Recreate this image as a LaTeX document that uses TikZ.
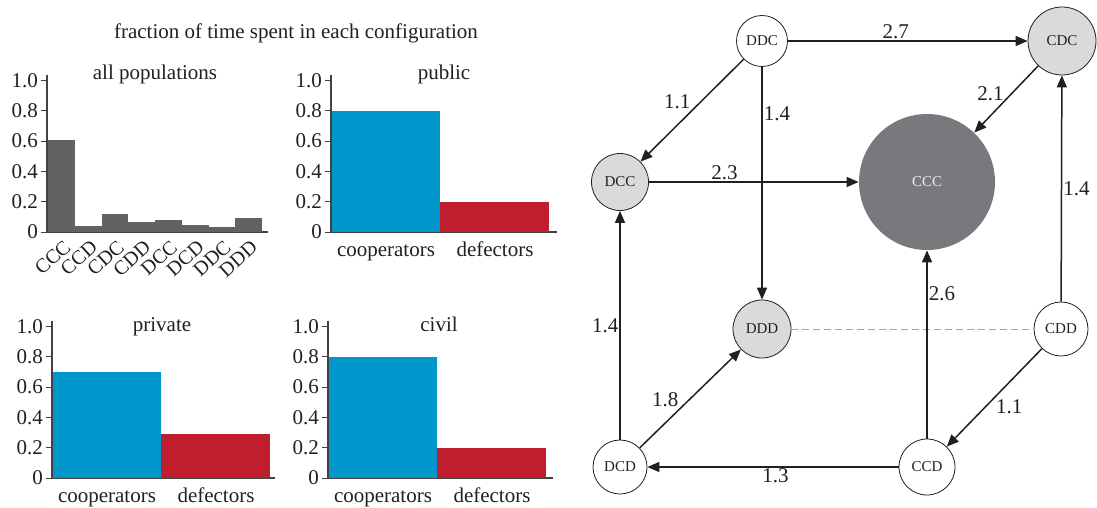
\documentclass[tikz,border=0pt]{standalone}
\usepackage{fontspec}
\setmainfont{Liberation Serif}
\usetikzlibrary{arrows.meta}
\definecolor{coopblue}{RGB}{0,152,204}
\definecolor{defred}{RGB}{190,30,45}
\definecolor{bargray}{RGB}{98,98,100}
\definecolor{lightnode}{RGB}{218,218,220}
\definecolor{darknode}{RGB}{120,121,125}
\definecolor{ink}{RGB}{35,31,32}
\begin{document}
\begin{tikzpicture}[x=1pt,y=-1pt,
    txt/.style={font=\fontsize{21}{24}\selectfont,text=ink,inner sep=1pt},
    state/.style={circle,draw=ink,line width=0.8pt,inner sep=0pt,font=\fontsize{15}{17}\selectfont,text=ink},
    trans/.style={line width=1.5pt,draw=ink,-{Triangle[length=12pt,width=10pt]}},
    axis/.style={line width=1.5pt,draw=ink!85}]
    \useasboundingbox (0,0) rectangle (1097,508);
    \node[txt] (title) at (296,33) {fraction of time spent in each configuration};
    \foreach \ax/\zy/\xe [count=\k] in {47/232/268,331/232/557,52/478/275,328/478/553} {
        \draw[axis] (\ax,\zy-157) -- (\ax,\zy) -- (\xe,\zy);
        \foreach \t/\tl in {0/0,0.2/0.2,0.4/0.4,0.6/0.6,0.8/0.8,1/1.0} {
            \draw[axis,line width=1pt] (\ax-6,\zy-151.6*\t) -- (\ax,\zy-151.6*\t);
            \node[txt,anchor=east] (tick\k\tl) at (\ax-8,\zy-151.6*\t) {\tl};
        }
    }
    \foreach \lbl/\v [count=\i from 0] in {CCC/0.604,CCD/0.042,CDC/0.121,CDD/0.066,DCC/0.079,DCD/0.046,DDC/0.03,DDD/0.092} {
        \fill[bargray] ({48.3+26.7*\i},232) rectangle ++(26.7,{-151.6*\v});
        \node[txt,font=\fontsize{20}{22}\selectfont,rotate=42,anchor=north east,inner sep=0pt] (bar\lbl) at ({63+26.7*\i},239) {\lbl};
    }
    \foreach \ax/\zy/\cv/\dv [count=\k] in {331/232/0.8/0.2,52/478/0.7/0.29,328/478/0.8/0.2} {
        \fill[coopblue] (\ax+0.8,\zy) rectangle ++(108.5,{-151.6*\cv});
        \fill[defred] (\ax+109.3,\zy) rectangle ++(108.5,{-151.6*\dv});
        \node[txt,anchor=base] (coop\k) at (\ax+55,\zy+24) {cooperators};
        \node[txt,anchor=base] (def\k) at (\ax+164,\zy+24) {defectors};
    }
    \foreach \x/\y/\ttl [count=\k] in {155/80/all populations,444/80/public,162/331/private,439/331/civil} {
        \node[txt,anchor=base] (head\k) at (\x,\y) {\ttl};
    }
    \node[state,draw=none,fill=darknode,text=white!88!darknode,minimum size=136pt] (CCC) at (927,182) {CCC};
    \node[state,minimum size=51pt] (DDC) at (762,41) {DDC};
    \node[state,fill=lightnode,minimum size=68pt] (CDC) at (1062,41) {CDC};
    \node[state,fill=lightnode,minimum size=57pt] (DCC) at (620,182) {DCC};
    \node[state,fill=lightnode,minimum size=58pt] (DDD) at (762,329) {DDD};
    \node[state,minimum size=54pt] (CDD) at (1061,329) {CDD};
    \node[state,minimum size=54pt] (DCD) at (620,467) {DCD};
    \node[state,minimum size=56pt] (CCD) at (927,467) {CCD};
    \draw[dashed,dash pattern=on 7pt off 4pt,line width=1pt,gray!70] (DDD) -- (CDD);
    \foreach \a/\b/\w/\p/\s/\dx in {DDC/CDC/2.7/0.45/above/0,DDC/DCC/1.1/0.5/above left/0,DDC/DDD/1.4/0.2/right/0,
        CDC/CCC/2.1/0.42/left/-6,DCC/CCC/2.3/0.36/above/0,CDD/CDC/1.4/0.5/right/0,DCD/DCC/1.4/0.5/left/0,
        DCD/DDD/1.8/0.4/above left/0,CCD/DCD/1.3/0.49/below/0,CCD/CCC/2.6/0.77/right/0,CDD/CCD/1.1/0.5/below right/0} {
        \draw[trans] (\a) -- (\b) node[txt,pos=\p,\s,xshift=\dx] {\w};
    }
\end{tikzpicture}
\end{document}
